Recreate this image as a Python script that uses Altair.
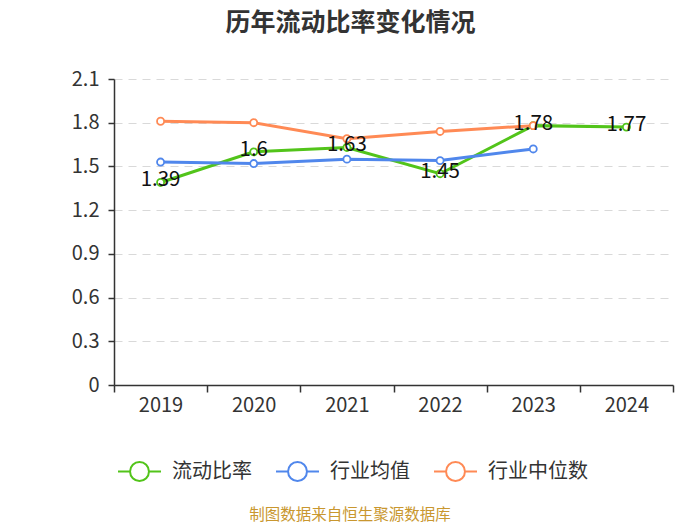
import altair as alt
import pandas as pd

years = ["2019", "2020", "2021", "2022", "2023", "2024"]
current_ratio = [1.39, 1.60, 1.63, 1.45, 1.78, 1.77]
industry_avg = [1.53, 1.52, 1.55, 1.54, 1.62]
industry_median = [1.81, 1.80, 1.69, 1.74, 1.78]
label_texts = ["1.39", "1.6", "1.63", "1.45", "1.78", "1.77"]
series_names = ["流动比率", "行业均值", "行业中位数"]
series_colors = ["#52c41a", "#5087ec", "#ff8a55"]
y_ticks = [0, 0.3, 0.6, 0.9, 1.2, 1.5, 1.8, 2.1]
title_text = "历年流动比率变化情况"
source_text = "制图数据来自恒生聚源数据库"

FONT = "Noto Sans CJK SC"

rows = []
for name, vals in zip(series_names, [current_ratio, industry_avg, industry_median]):
    for i, v in enumerate(vals):
        rows.append({"series": name, "pos": i + 0.5, "year": years[i], "value": v,
                     "label": label_texts[i] if name == series_names[0] else ""})
df = pd.DataFrame(rows)

year_js = "[" + ",".join("'" + y + "'" for y in years) + "]"

x_enc = alt.X(
    "pos:Q",
    scale=alt.Scale(domain=[0, len(years)], nice=False, zero=False),
    axis=alt.Axis(
        values=list(range(len(years) + 1)),
        labelExpr=f"{year_js}[datum.value] || ''",
        labelOffset=46.5,
        labelOverlap=False,
        labelFlush=False,
        grid=False,
        title=None,
        tickSize=7,
        tickColor="#333333",
        tickWidth=1.5,
        domainColor="#333333",
        domainWidth=1.5,
        labelFontSize=20,
        labelColor="#333333",
        labelFont=FONT,
        labelPadding=3,
    ),
)
y_enc = alt.Y(
    "value:Q",
    scale=alt.Scale(domain=[0, 2.1], nice=False),
    axis=alt.Axis(
        values=y_ticks,
        format=".1~f",
        title=None,
        grid=True,
        gridDash=[8, 6],
        gridColor="#d9d9d9",
        gridWidth=1.2,
        tickSize=6,
        tickColor="#333333",
        tickWidth=1.5,
        domainColor="#333333",
        domainWidth=1.5,
        labelFontSize=20,
        labelColor="#333333",
        labelFont=FONT,
        labelPadding=9,
    ),
)
color_scale = alt.Scale(domain=series_names, range=series_colors)

legend_path = ("M-1,0L-0.44,0M0.44,0L1,0"
               "M-0.44,0A0.44,0.44,0,1,1,0.44,0A0.44,0.44,0,1,1,-0.44,0")

base = alt.Chart(df)

lines = base.mark_line(strokeWidth=3).encode(
    x=x_enc,
    y=y_enc,
    color=alt.Color(
        "series:N",
        scale=color_scale,
        sort=series_names,
        legend=alt.Legend(
            title=None,
            orient="none",
            direction="horizontal",
            legendX=3,
            legendY=370,
            symbolType=legend_path,
            symbolSize=1849,
            symbolStrokeWidth=2,
            symbolFillColor="#ffffff",
            labelFontSize=20,
            labelFont=FONT,
            labelColor="#333333",
            labelOffset=10,
            columnPadding=20,
        ),
    ),
)

points = base.mark_point(filled=False, fill="#ffffff", size=50, strokeWidth=1.8, opacity=1).encode(
    x="pos:Q",
    y="value:Q",
    color=alt.Color("series:N", scale=color_scale, legend=None),
)

labels = base.transform_filter(alt.datum.series == series_names[0]).mark_text(
    fontSize=20.5, font=FONT, color="#111111", dy=-2
).encode(x="pos:Q", y="value:Q", text="label:N")

source = alt.Chart(pd.DataFrame({"t": [source_text]})).mark_text(
    fontSize=15.5, font=FONT, color="#c9972f"
).encode(text="t:N", x=alt.value(236), y=alt.value(436))

chart = alt.layer(lines, points, labels, source).properties(
    width=559,
    height=306,
    title=alt.TitleParams(
        text=title_text,
        font=FONT,
        fontSize=25,
        fontWeight="bold",
        color="#333333",
        anchor="middle",
        frame="group",
        dx=-43,
        baseline="middle",
        offset=21,
    ),
    autosize=alt.AutoSizeParams(type="none"),
    padding={"left": 106, "top": 71, "right": 19, "bottom": 140},
).configure_view(stroke=None)

chart.save("out.html", embed_options={"renderer": "svg", "actions": False})
